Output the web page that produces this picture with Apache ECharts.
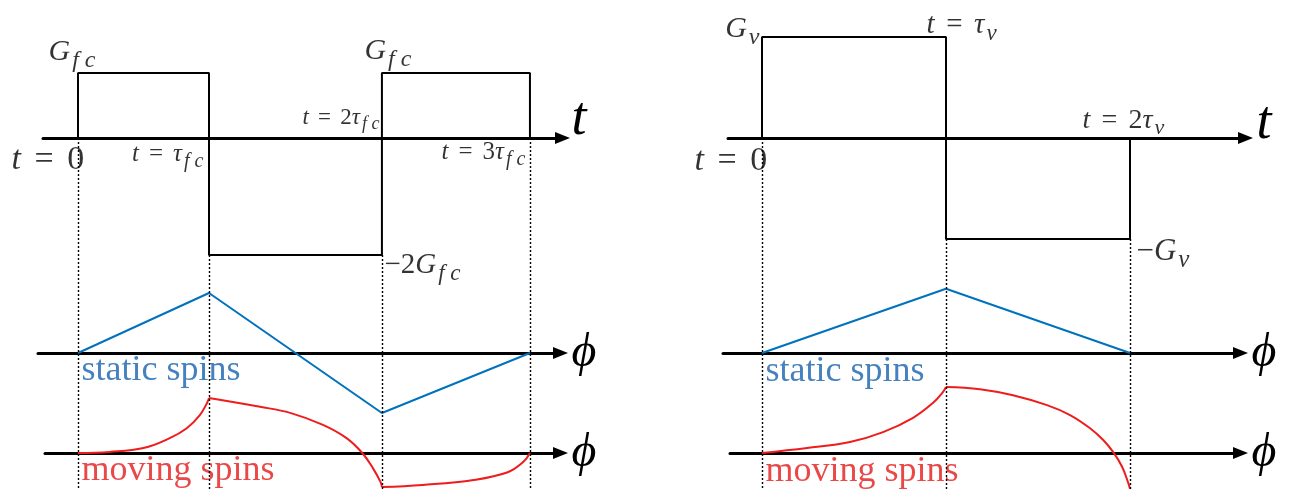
<!DOCTYPE html>
<html>
<head>
<meta charset="utf-8">
<script src="https://cdn.jsdelivr.net/npm/echarts@6/dist/echarts.min.js"></script>
<style>
  html, body { margin: 0; background: #fff; }
  #chart { width: 1295px; height: 489px; }
</style>
</head>
<body>
<div id="chart"></div>
<script>
// ---- values ----
// left panel: flow compensated gradient (time in units of tau_fc, as drawn)
const fcBreaks = [0, 1, 2.32, 3.45];
const fcGrad = [1, -1.8, 1];
const fcStatic = [0, 1, -1, 0];
const fcMoving = [
  [[0, 0], [0.24, 0.02], [0.50, 0.09], [0.70, 0.27], [0.83, 0.45], [0.93, 0.69], [0.985, 0.91], [1, 1]],
  [[1, 1], [1.39, 0.84], [1.62, 0.73], [1.87, 0.51], [2.05, 0.27], [2.17, 0], [2.25, -0.27], [2.31, -0.53], [2.32, -0.62]],
  [[2.32, -0.62], [2.63, -0.58], [3.02, -0.49], [3.28, -0.35], [3.40, -0.16], [3.45, 0]]
];
// right panel: velocity encoding gradient (time in units of tau_v)
const vBreaks = [0, 1, 2];
const vGrad = [1, -1];
const vStatic = [0, 1.07, 0];
const vMoving = [
  [[0, 0], [0.245, 0.09], [0.478, 0.20], [0.658, 0.38], [0.821, 0.64], [0.929, 0.91], [0.984, 1.11], [1, 1.2]],
  [[1, 1.2], [1.185, 1.16], [1.364, 1.05], [1.549, 0.87], [1.674, 0.69], [1.783, 0.45], [1.853, 0.24], [1.908, 0.02], [1.957, -0.25], [1.989, -0.53], [2, -0.65]]
];

// annotation texts (rich tokens: m = math italic, r = roman, e = relation, s = subscript)
const fcLabels = [
  { at: [0, 1], text: '{m|G}{s|f c}', size: 30, align: 'left', off: [-29, -20] },
  { at: [0, 0], text: '{m|t}{e|=}{r|0}', size: 34, align: 'left', off: [-66, 23] },
  { at: [1, 0], text: '{m|t}{e|=}{m|τ}{s|f c}', size: 25, align: 'right', off: [-5, 17] },
  { at: [2.32, 0], text: '{m|t}{e|=}{r|2}{m|τ}{s|f c}', size: 23, align: 'right', off: [-2, -20] },
  { at: [2.32, 1], text: '{m|G}{s|f c}', size: 30, align: 'left', off: [-17, -21] },
  { at: [3.45, 0], text: '{m|t}{e|=}{r|3}{m|τ}{s|f c}', size: 25, align: 'right', off: [-4, 15] },
  { at: [2.32, -1.8], text: '{r|−2}{m|G}{s|f c}', size: 29, align: 'left', off: [3, 11] }
];
const vLabels = [
  { at: [0, 1], text: '{m|G}{s|v}', size: 30, align: 'right', off: [-2, -7] },
  { at: [1, 1], text: '{m|t}{e|=}{m|τ}{s|v}', size: 29, align: 'left', off: [-19, -11] },
  { at: [0, 0], text: '{m|t}{e|=}{r|0}', size: 34, align: 'left', off: [-67, 24] },
  { at: [2, 0], text: '{m|t}{e|=}{r|2}{m|τ}{s|v}', size: 28, align: 'left', off: [-47, -17] },
  { at: [2, -1], text: '{r|−}{m|G}{s|v}', size: 31, align: 'left', off: [7, 13] }
];
const spinNames = ['static spins', 'moving spins'];

// ---- layout (pixels) ----
const SERIF = "'Liberation Serif', 'DejaVu Serif', serif";
const BLUE = '#0072BD';
const RED = '#EE1C1C';
const BLUE_TEXT = '#1762AE';
const RED_TEXT = '#E41A1A';
const ARROW = [12, 15];
const panels = [
  {
    breaks: fcBreaks, grad: fcGrad, stat: fcStatic, moving: fcMoving, labels: fcLabels,
    zeroX: 78, unitX: 131,
    rows: {
      grad: { start: 43, tip: 570, top: 0, bottom: 489, zeroY: 138, unitY: 65, name: 't', nameSize: 54, gap: 9, lift: 36 },
      stat: { start: 38, tip: 568, top: 270, bottom: 440, zeroY: 353, unitY: 60, name: 'ϕ', nameSize: 48, gap: 11, lift: 0 },
      mov: { start: 45, tip: 568, top: 370, bottom: 489, zeroY: 453, unitY: 55, name: 'ϕ', nameSize: 48, gap: 11, lift: 0 }
    },
    spinOff: [[4, 18], [4, 18]]
  },
  {
    breaks: vBreaks, grad: vGrad, stat: vStatic, moving: vMoving, labels: vLabels,
    zeroX: 762, unitX: 184,
    rows: {
      grad: { start: 728, tip: 1253, top: 0, bottom: 489, zeroY: 138, unitY: 101, name: 't', nameSize: 54, gap: 11, lift: 28 },
      stat: { start: 723, tip: 1248, top: 270, bottom: 440, zeroY: 353, unitY: 60, name: 'ϕ', nameSize: 48, gap: 11, lift: 0 },
      mov: { start: 730, tip: 1248, top: 370, bottom: 489, zeroY: 453, unitY: 55, name: 'ϕ', nameSize: 48, gap: 11, lift: 0 }
    },
    spinOff: [[4, 19], [4, 19]]
  }
];

const grid = [], xAxis = [], yAxis = [], series = [];

function rich(size) {
  const sub = Math.round(size * 0.8);
  return {
    m: { fontFamily: SERIF, fontStyle: 'italic', fontSize: size, color: '#000' },
    r: { fontFamily: SERIF, fontSize: size, color: '#000' },
    e: { fontFamily: SERIF, fontSize: size, color: '#000', padding: [0, size * 0.4, 0, size * 0.4] },
    s: { fontFamily: SERIF, fontStyle: 'italic', fontSize: sub, color: '#000', padding: [Math.round(size * 0.55), 0, 0, Math.round(size * 0.08)] }
  };
}

function addRow(p, row) {
  const idx = grid.length;
  const end = row.tip - ARROW[1] / 2;
  grid.push({ left: row.start, top: row.top, width: end - row.start, height: row.bottom - row.top });
  xAxis.push({
    type: 'value', gridIndex: idx,
    min: (row.start - p.zeroX) / p.unitX,
    max: (end - p.zeroX) / p.unitX,
    axisLine: {
      show: true, onZero: true,
      symbol: ['none', 'triangle'], symbolSize: ARROW,
      lineStyle: { color: '#000', width: 3 }
    },
    axisTick: { show: false }, axisLabel: { show: false }, splitLine: { show: false },
    name: row.name, nameLocation: 'end', nameGap: row.gap,
    nameTextStyle: row.lift ? {
      fontFamily: SERIF, fontStyle: 'italic', fontSize: row.nameSize, color: '#000',
      verticalAlign: 'bottom', lineHeight: row.lift
    } : {
      fontFamily: SERIF, fontStyle: 'italic', fontSize: row.nameSize, color: '#000'
    }
  });
  yAxis.push({
    type: 'value', gridIndex: idx, show: false,
    min: -(row.bottom - row.zeroY) / row.unitY,
    max: (row.zeroY - row.top) / row.unitY
  });
  return idx;
}

function textPoint(xi, items) {
  return {
    type: 'scatter', xAxisIndex: xi, yAxisIndex: xi, silent: true, clip: false,
    symbolSize: 1, itemStyle: { color: 'rgba(0,0,0,0)' },
    data: items
  };
}

panels.forEach(function (p) {
  const gi = addRow(p, p.rows.grad);
  const si = addRow(p, p.rows.stat);
  const mi = addRow(p, p.rows.mov);

  // gradient waveform
  const wave = [[p.breaks[0], 0]];
  p.grad.forEach(function (g, i) {
    wave.push([p.breaks[i], g], [p.breaks[i + 1], g]);
  });
  wave.push([p.breaks[p.breaks.length - 1], 0]);

  // dotted guides from the lowest level at each break down to the bottom
  const bottom = yAxis[gi].min;
  const guides = p.breaks.map(function (b, i) {
    const before = i > 0 ? p.grad[i - 1] : 0;
    const after = i < p.grad.length ? p.grad[i] : 0;
    const from = Math.min(0, before, after);
    return [{ coord: [b, from] }, { coord: [b, bottom] }];
  });

  series.push({
    type: 'line', xAxisIndex: gi, yAxisIndex: gi, data: wave,
    symbol: 'none', clip: false, silent: true,
    lineStyle: { color: '#000', width: 2 },
    markLine: {
      silent: true, symbol: ['none', 'none'], label: { show: false },
      lineStyle: { color: '#000', width: 1.4, type: [2, 2] },
      emphasis: { disabled: true },
      data: guides
    }
  });

  // phase of static spins
  series.push({
    type: 'line', xAxisIndex: si, yAxisIndex: si,
    data: p.breaks.map(function (b, i) { return [b, p.stat[i]]; }),
    symbol: 'none', clip: false, silent: true,
    lineStyle: { color: BLUE, width: 2 }
  });

  // phase of moving spins, one smooth piece per gradient lobe
  p.moving.forEach(function (piece) {
    series.push({
      type: 'line', xAxisIndex: mi, yAxisIndex: mi, data: piece,
      symbol: 'none', clip: false, silent: true, smooth: 0.4,
      lineStyle: { color: RED, width: 2 }
    });
  });

  // math annotations on the gradient row
  series.push(textPoint(gi, p.labels.map(function (l) {
    return {
      value: l.at,
      label: {
        show: true, position: [0, 0], align: l.align, verticalAlign: 'middle',
        offset: l.off, formatter: l.text, rich: rich(l.size)
      }
    };
  })));

  // "static spins" / "moving spins"
  [si, mi].forEach(function (ri, k) {
    series.push(textPoint(ri, [{
      value: [0, 0],
      label: {
        show: true, position: [0, 0], align: 'left', verticalAlign: 'middle',
        offset: p.spinOff[k], formatter: spinNames[k],
        fontFamily: SERIF, fontSize: 36, color: k === 0 ? BLUE_TEXT : RED_TEXT
      }
    }]));
  });
});

const chart = echarts.init(document.getElementById('chart'));
chart.setOption({
  animation: false,
  backgroundColor: '#fff',
  grid: grid,
  xAxis: xAxis,
  yAxis: yAxis,
  series: series
});
</script>
</body>
</html>
